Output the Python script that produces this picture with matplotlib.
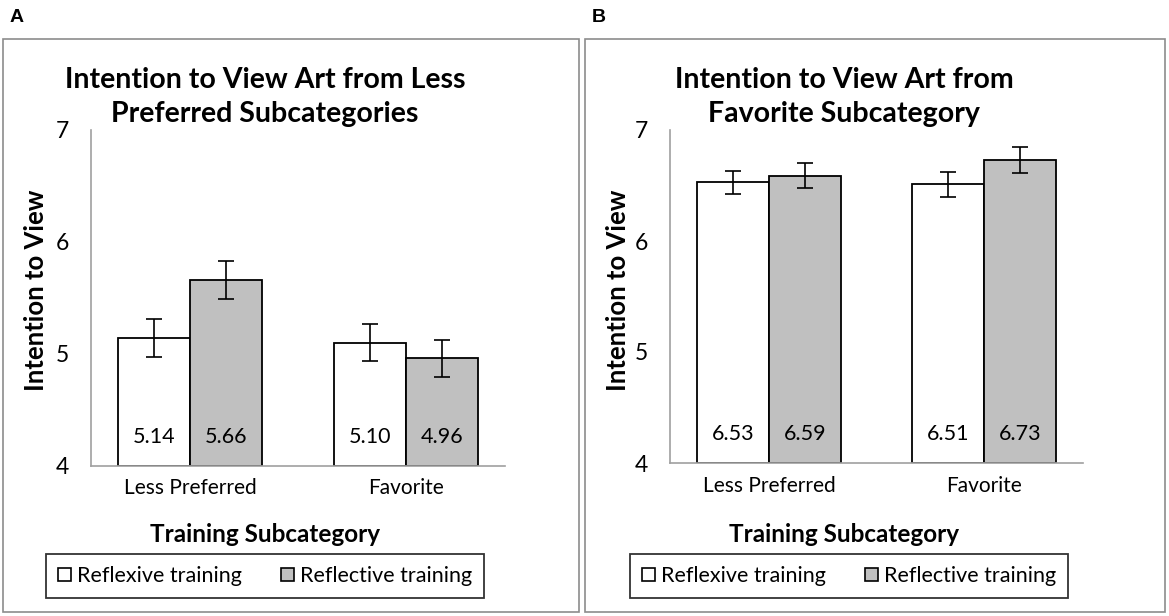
import matplotlib.pyplot as plt
from matplotlib.patches import Patch, Rectangle
import numpy as np

# data
categories = ["Less Preferred", "Favorite"]
series = ["Reflexive training", "Reflective training"]
colors = ["white", "#c0c0c0"]

titles = ["Intention to View Art from Less\nPreferred Subcategories",
          "Intention to View Art from\nFavorite Subcategory"]
panel_tags = ["A", "B"]

means_a = [[5.14, 5.10], [5.66, 4.96]]
errs_a = [[0.17, 0.165], [0.17, 0.165]]
means_b = [[6.53, 6.51], [6.59, 6.73]]
errs_b = [[0.105, 0.11], [0.11, 0.115]]

plt.rcParams['font.family'] = ['Lato', 'DejaVu Sans']

W, H = 1169, 616
fig = plt.figure(figsize=(W / 100, H / 100), dpi=100)


def fx(px):
    return px / W


def fy(py):
    return 1 - py / H


# pixel layouts: panel box, axes box, title centre, legend box
layouts = [
    dict(box=(3, 39, 579, 612), ax=(91, 130, 505, 466), cx=265, yl=36, leg=(37, 554, 493, 598)),
    dict(box=(585, 39, 1165, 612), ax=(670, 130, 1083, 463), cx=844, yl=618, leg=(620, 554, 1078, 598)),
]

for i, (lay, means, errs) in enumerate(zip(layouts, [means_a, means_b], [errs_a, errs_b])):
    x0, y0, x1, y1 = lay["box"]
    fig.patches.append(Rectangle((fx(x0), fy(y1)), fx(x1 - x0), (y1 - y0) / H,
                                 transform=fig.transFigure, fill=False,
                                 edgecolor="#8c8c8c", linewidth=1.2))
    fig.text(fx(x0 + 7), fy(17), panel_tags[i], fontsize=14, fontweight="bold",
             ha="left", va="center", family="Liberation Sans")

    a0, b0, a1, b1 = lay["ax"]
    ax = fig.add_axes([fx(a0), fy(b1), fx(a1 - a0), (b1 - b0) / H])
    x = np.arange(len(categories))
    w = 0.333
    for s in range(2):
        pos = x + (s - 0.5) * w
        ax.bar(pos, np.array(means[s]) - 4, w, bottom=4, color=colors[s],
               edgecolor="black", linewidth=1.3, zorder=2)
        ax.errorbar(pos, means[s], yerr=errs[s], fmt="none", ecolor="black",
                    elinewidth=1.2, capsize=6, capthick=1.2, zorder=3)
        for p, v in zip(pos, means[s]):
            ax.text(p, 4.26, f"{v:.2f}", ha="center", va="center", fontsize=15.5)

    ax.set_ylim(4, 7)
    ax.set_xlim(-0.46, 1.46)
    ax.set_yticks([4, 5, 6, 7])
    ax.set_xticks(x)
    ax.set_xticklabels(categories, fontsize=15)
    ax.tick_params(axis="y", labelsize=16.5, length=0, pad=16)
    ax.tick_params(axis="x", length=0, pad=9)
    for sp in ["top", "right"]:
        ax.spines[sp].set_visible(False)
    for sp in ["left", "bottom"]:
        ax.spines[sp].set_color("#a0a0a0")
        ax.spines[sp].set_linewidth(1.2)

    fig.text(fx(lay["cx"]), fy(97), titles[i], ha="center", va="center",
             fontsize=20.5, fontweight="bold", linespacing=1.35)
    fig.text(fx(lay["cx"]), fy(535), "Training Subcategory", ha="center",
             va="center", fontsize=17.5, fontweight="bold")
    fig.text(fx(lay["yl"]), fy(290), "Intention to View", ha="center", va="center",
             rotation=90, fontsize=18.5, fontweight="bold")

    l0, m0, l1, m1 = lay["leg"]
    handles = [Patch(facecolor=c, edgecolor="black", linewidth=1.2) for c in colors]
    leg = fig.legend(handles, series, loc="center", ncol=2,
                     bbox_to_anchor=(fx(l0), fy(m1), fx(l1 - l0), (m1 - m0) / H),
                     bbox_transform=fig.transFigure, fontsize=15.5, frameon=True,
                     fancybox=False, edgecolor="black", handlelength=0.6,
                     handleheight=0.6, handletextpad=0.3, columnspacing=1.8,
                     borderpad=0.55, borderaxespad=0)
    leg.get_frame().set_linewidth(1.3)

fig.savefig("out.png", dpi=100)
